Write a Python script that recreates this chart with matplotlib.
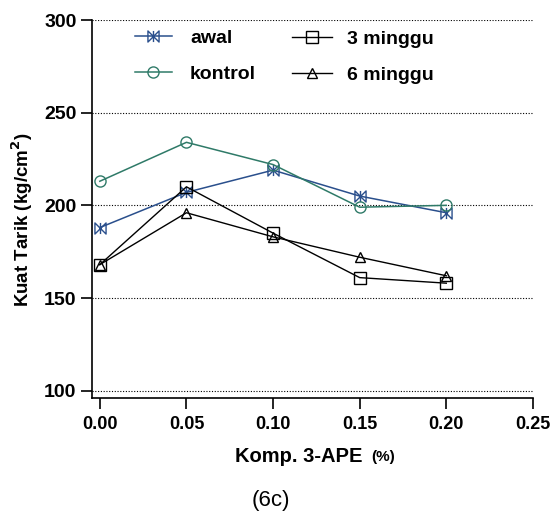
import matplotlib
matplotlib.use("Agg")
import matplotlib.pyplot as plt
from matplotlib.path import Path
import numpy as np

x = [0.00, 0.05, 0.10, 0.15, 0.20]
awal = [188, 207, 219, 205, 196]
kontrol = [213, 234, 222, 199, 200]
minggu3 = [168, 210, 185, 161, 158]
minggu6 = [168, 196, 183, 172, 162]
xticks = [0.00, 0.05, 0.10, 0.15, 0.20, 0.25]
yticks = [100, 150, 200, 250, 300]

plt.rcParams['font.family'] = ['Liberation Sans', 'DejaVu Sans']

bowtie = Path([(-1, 1), (1, -1), (1, 1), (-1, -1), (-1, 1), (0, 1), (0, -1)],
              [Path.MOVETO, Path.LINETO, Path.LINETO, Path.LINETO, Path.CLOSEPOLY,
               Path.MOVETO, Path.LINETO])

fig = plt.figure(figsize=(5.5, 5.13), dpi=100)
ax = fig.add_axes([0.167, 0.224, 0.802, 0.737])

blue = '#2a4f8c'
green = '#2f7a68'
h1, = ax.plot(x, awal, color=blue, lw=1.1, marker=bowtie, ms=8, mfc='none', mec=blue, mew=1.0, label='awal')
h2, = ax.plot(x, kontrol, color=green, lw=1.1, marker='o', ms=8, mfc='none', mec=green, mew=1.0, label='kontrol')
h3, = ax.plot(x, minggu3, color='black', lw=1.0, marker='s', ms=9, mfc='none', mec='black', mew=1.0, label='3 minggu')
h4, = ax.plot(x, minggu6, color='black', lw=1.0, marker='^', ms=7, mfc='none', mec='black', mew=1.0, label='6 minggu')

ax.set_xlim(-0.0046, 0.25)
ax.set_ylim(96, 300)
ax.set_xticks(xticks)
ax.set_xticklabels(['%.2f' % v for v in xticks])
ax.set_yticks(yticks)
for yv in yticks:
    ax.axhline(yv, color='black', lw=0.8, ls=(0, (1, 1.5)), zorder=0)

for s in ['top', 'right']:
    ax.spines[s].set_visible(False)
for s in ['left', 'bottom']:
    ax.spines[s].set_linewidth(1.2)
ax.tick_params(axis='both', direction='out', length=8, width=1.2)
ax.tick_params(axis='x', pad=5, labelsize=13)
ax.tick_params(axis='y', pad=3, labelsize=14)
for lbl in ax.get_xticklabels() + ax.get_yticklabels():
    lbl.set_fontweight('bold')

ax.set_ylabel('Kuat Tarik (kg/cm$^\\mathbf{2}$)', fontsize=13.5, fontweight='bold')
ax.yaxis.set_label_coords(-0.129, 0.471)

fig.text(0.427, 0.111, 'Komp. 3-APE', fontsize=14.5, fontweight='bold', ha='left', va='center')
fig.text(0.675, 0.109, '(%)', fontsize=11, fontweight='bold', ha='left', va='center')
fig.text(0.493, 0.025, '(6c)', fontsize=16, ha='center', va='center')

prop = {'weight': 'bold', 'size': 14}
leg1 = ax.legend(handles=[h1, h2], frameon=False, loc='upper left',
                 bbox_to_anchor=(0.0975, 0.976), borderaxespad=0, borderpad=0,
                 prop=prop, handlelength=1.9, labelspacing=0.95, handletextpad=0.93)
ax.add_artist(leg1)
ax.legend(handles=[h3, h4], frameon=False, loc='upper left',
          bbox_to_anchor=(0.4535, 0.973), borderaxespad=0, borderpad=0,
          prop=prop, handlelength=2.06, labelspacing=0.95, handletextpad=0.77)

fig.savefig('out.png', dpi=100)
